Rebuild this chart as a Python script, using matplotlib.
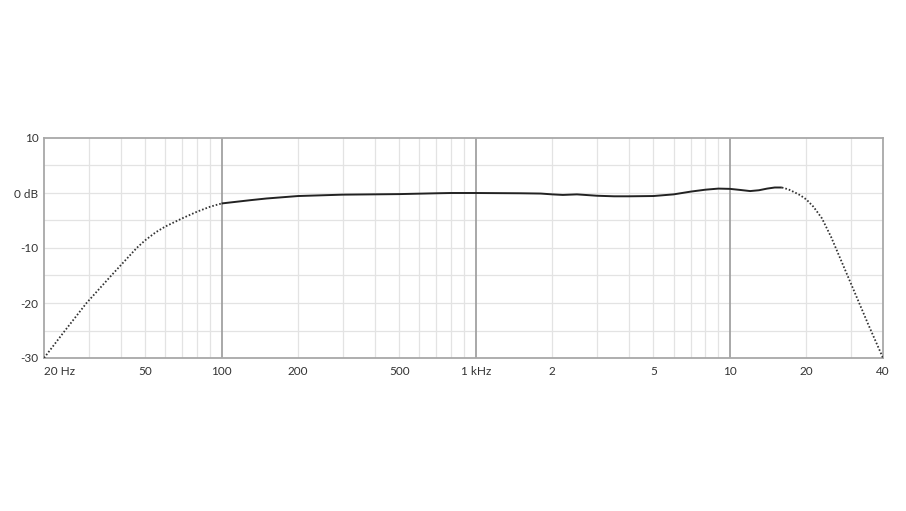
import matplotlib.pyplot as plt
from matplotlib.ticker import FixedLocator, NullFormatter

plt.rcParams['font.family'] = ['Lato', 'DejaVu Sans']

# frequency response (Hz, dB)
freq_low = [20, 24.2, 29.4, 36.8, 46.3, 50, 55, 60, 70, 80, 90, 100]
db_low = [-30, -25, -20, -15, -10, -8.6, -7.15, -6.1, -4.6, -3.4, -2.5, -1.9]

freq_mid = [100, 130, 150, 200, 300, 500, 700, 800, 1000, 1500, 1800, 2000, 2200, 2500,
            3000, 3500, 4000, 5000, 6000, 7000, 8000, 9000, 10000, 11000, 12000, 13000,
            14000, 15000, 16000]
db_mid = [-1.9, -1.3, -1.0, -0.55, -0.3, -0.2, -0.05, 0.0, 0.0, -0.05, -0.1, -0.25, -0.35, -0.25,
          -0.5, -0.6, -0.6, -0.55, -0.25, 0.25, 0.6, 0.8, 0.75, 0.55, 0.35, 0.5,
          0.8, 1.0, 1.0]

freq_high = [16000, 17000, 18000, 18900, 20000, 21300, 23000, 25000, 27500, 30000, 35000, 40000]
db_high = [1.0, 0.65, 0.1, -0.4, -1.2, -2.5, -4.6, -8.0, -12.5, -16.6, -23.9, -30.0]

x_ticks = [20, 50, 100, 200, 500, 1000, 2000, 5000, 10000, 20000, 40000]
x_labels = ["20 Hz", "50", "100", "200", "500", "1 kHz", "2", "5", "10", "20", "40"]
y_ticks = [-30, -20, -10, 0, 10]
y_labels = ["-30", "-20", "-10", "0 dB", "10"]

minor_grid = [30, 40, 50, 60, 70, 80, 90, 200, 300, 400, 500, 600, 700, 800, 900,
              2000, 3000, 4000, 5000, 6000, 7000, 8000, 9000, 20000, 30000]
major_grid = [100, 1000, 10000]

fig = plt.figure(figsize=(9.06, 5.11), dpi=100)
ax = fig.add_axes([44 / 906, 1 - 358 / 511, 839 / 906, 220 / 511])

ax.set_xscale('log')
ax.set_xlim(20, 40000)
ax.set_ylim(-30, 10)

for f in minor_grid:
    ax.axvline(f, color='#e3e3e3', lw=0.9, zorder=1)
for f in major_grid:
    ax.axvline(f, color='#9a9a9a', lw=1.2, zorder=2)
for d in range(-25, 10, 5):
    ax.axhline(d, color='#e3e3e3', lw=0.9, zorder=1)

dot = (0, (0.9, 1.1))
ax.plot(freq_low, db_low, color='#333333', lw=1.3, ls=dot, zorder=3)
ax.plot(freq_mid, db_mid, color='#222222', lw=1.4, zorder=3, solid_capstyle='butt')
ax.plot(freq_high, db_high, color='#333333', lw=1.3, ls=dot, zorder=3)

ax.xaxis.set_major_locator(FixedLocator(x_ticks))
ax.xaxis.set_minor_locator(FixedLocator([]))
ax.xaxis.set_minor_formatter(NullFormatter())
ax.set_xticklabels(x_labels)
ax.set_yticks(y_ticks)
ax.set_yticklabels(y_labels)
ax.tick_params(length=0, labelsize=8.5, colors='#333333')
ax.tick_params(axis='x', pad=6)
ax.tick_params(axis='y', pad=4)
ax.get_xticklabels()[0].set_horizontalalignment('left')
ax.get_xticklabels()[0].set_x(20)

for s in ax.spines.values():
    s.set_color('#a8a8a8')
    s.set_linewidth(1.3)

fig.savefig('out.png', dpi=100)
